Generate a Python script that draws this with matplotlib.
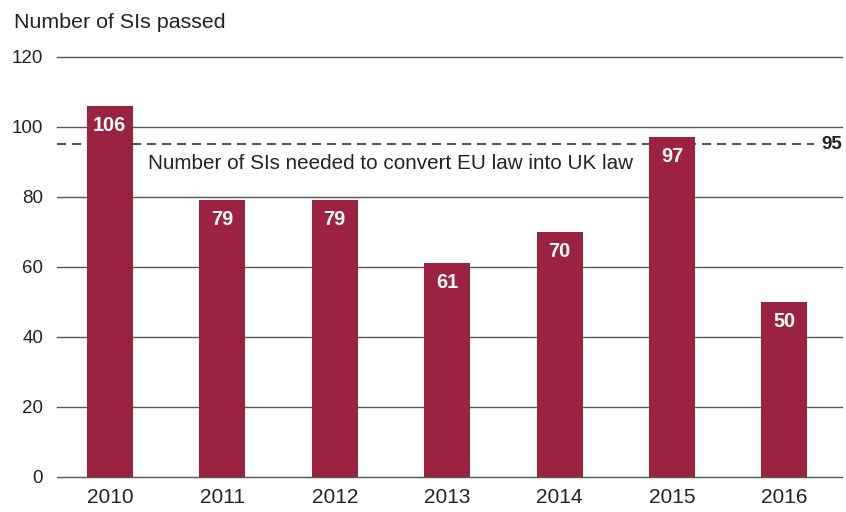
import matplotlib
matplotlib.use("Agg")
import matplotlib.pyplot as plt

years = ["2010", "2011", "2012", "2013", "2014", "2015", "2016"]
values = [106, 79, 79, 61, 70, 97, 50]
threshold = 95
yticks = [0, 20, 40, 60, 80, 100, 120]
title = "Number of SIs passed"
threshold_label = "Number of SIs needed to convert EU law into UK law"

plt.rcParams['font.family'] = ['Liberation Sans', 'DejaVu Sans']
bar_color = "#9b2240"
text_color = "#222222"

fig = plt.figure(figsize=(8.46, 5.12), dpi=100)
ax = fig.add_axes([0.0674, 0.0684, 0.9276, 0.8203])

x = list(range(len(years)))
ax.set_axisbelow(True)
for t in yticks:
    ax.axhline(t, color="#555555", lw=1.0, zorder=0, clip_on=False)
ax.bar(x, values, width=0.41, color=bar_color, zorder=2)

for xi, v in zip(x, values):
    ax.text(xi, v - 5.5, str(v), ha="center", va="center", color="white",
            fontsize=14.3, fontweight="bold", zorder=3)

ax.plot([-0.47, 6.26], [threshold, threshold], ls=(0, (5.5, 3.5)), color="#333333",
        lw=1.2, zorder=1)
ax.text(6.33, threshold, str(threshold), ha="left", va="center", color=text_color,
        fontsize=13.5, fontweight="bold")
ax.text(0.34, 89.5, threshold_label, ha="left", va="center", color=text_color,
        fontsize=14.9)

ax.set_xlim(-0.47, 6.51)
ax.set_ylim(0, 120)
ax.set_xticks(x)
ax.set_xticklabels(years, fontsize=15, color=text_color)
ax.set_yticks(yticks)
ax.set_yticklabels([str(t) for t in yticks], fontsize=13.5, color=text_color)
ax.tick_params(axis="both", length=0)
ax.tick_params(axis="x", pad=8)
ax.tick_params(axis="y", pad=10)
for s in ax.spines.values():
    s.set_visible(False)

fig.text(14 / 846, 1 - 22 / 512, title, ha="left", va="center", fontsize=15.4,
         color=text_color)

fig.savefig("out.png", dpi=100)
